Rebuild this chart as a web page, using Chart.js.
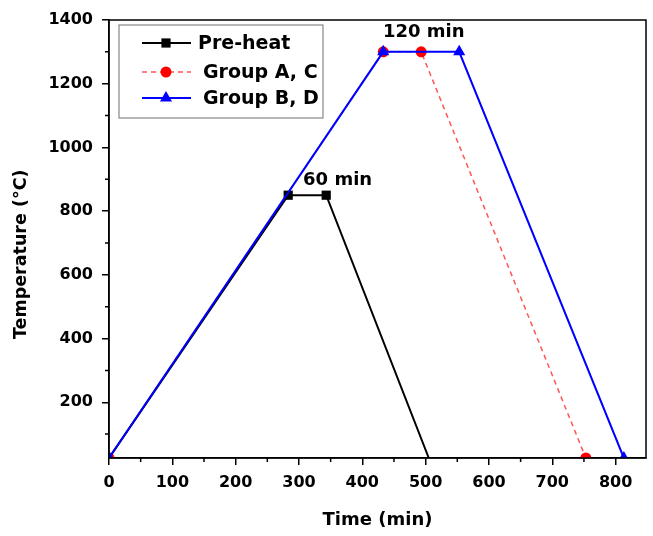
<!DOCTYPE html>
<html><head><meta charset="utf-8">
<script src="https://cdn.jsdelivr.net/npm/chart.js@4.4.0/dist/chart.umd.min.js"></script>
<style>html,body{margin:0;padding:0;background:#fff;} #wrap{width:653px;height:536px;}</style>
</head><body><div id="wrap"><canvas id="c" width="653" height="536"></canvas></div>
<script>
// ---- data ----
const seriesNames = ['Pre-heat', 'Group A, C', 'Group B, D'];
const preheatTime = [0, 283, 343, 505];
const preheatTemp = [25, 850, 850, 25];
const groupACTime = [0, 433, 493, 753];
const groupACTemp = [25, 1300, 1300, 25];
const groupBDTime = [0, 433, 553, 813];
const groupBDTemp = [25, 1300, 1300, 25];
const xTickLabels = [0, 100, 200, 300, 400, 500, 600, 700, 800];
const xMinorTicks = [50, 150, 250, 350, 450, 550, 650, 750];
const yTickLabels = [200, 400, 600, 800, 1000, 1200, 1400];
const yMinorTicks = [100, 300, 500, 700, 900, 1100, 1300];
const annotationTexts = ['60 min', '120 min'];
const annotationX = [361, 497];
const annotationY = [898, 1360];

const toXY = (xs, ys) => xs.map((x, i) => ({x: x, y: ys[i]}));
const FONT = '"DejaVu Sans", sans-serif';

function drawMarker(ctx, style, x, y, r, color) {
  ctx.save();
  ctx.fillStyle = color;
  ctx.beginPath();
  if (style === 'rect') {
    const s = Math.SQRT1_2 * r;
    ctx.rect(x - s, y - s, 2 * s, 2 * s);
  } else if (style === 'triangle') {
    ctx.moveTo(x, y - r);
    ctx.lineTo(x + r * Math.sin(Math.PI * 2 / 3), y - r * Math.cos(Math.PI * 2 / 3));
    ctx.lineTo(x + r * Math.sin(Math.PI * 4 / 3), y - r * Math.cos(Math.PI * 4 / 3));
    ctx.closePath();
  } else {
    ctx.arc(x, y, r, 0, Math.PI * 2);
  }
  ctx.fill();
  ctx.restore();
}

const extras = {
  id: 'extras',
  afterDraw(chart) {
    const ctx = chart.ctx;
    const xs = chart.scales.x, ys = chart.scales.y;
    const a = chart.chartArea;
    ctx.save();
    // minor ticks
    ctx.strokeStyle = '#000';
    ctx.lineWidth = 1.5;
    ctx.beginPath();
    xMinorTicks.forEach(v => {
      const px = xs.getPixelForValue(v);
      ctx.moveTo(px, a.bottom); ctx.lineTo(px, a.bottom + 4);
    });
    yMinorTicks.forEach(v => {
      const py = ys.getPixelForValue(v);
      ctx.moveTo(a.left, py); ctx.lineTo(a.left - 4, py);
    });
    ctx.stroke();
    // frame
    ctx.lineWidth = 1.5;
    ctx.strokeRect(a.left, a.top, a.right - a.left, a.bottom - a.top);
    // annotations
    ctx.fillStyle = '#000';
    ctx.font = 'bold 18px ' + FONT;
    ctx.textAlign = 'center';
    ctx.textBaseline = 'middle';
    annotationTexts.forEach((t, i) => {
      ctx.fillText(t, xs.getPixelForValue(annotationX[i]), ys.getPixelForValue(annotationY[i]));
    });
    // legend
    const bx = a.left + 10, by = a.top + 5, bw = 204, bh = 93;
    ctx.fillStyle = '#fff';
    ctx.fillRect(bx, by, bw, bh);
    ctx.strokeStyle = '#888';
    ctx.lineWidth = 1.2;
    ctx.strokeRect(bx, by, bw, bh);
    const rowY = [by + 18, by + 47, by + 73];
    const textX = [bx + 79, bx + 84, bx + 84];
    chart.data.datasets.forEach((ds, i) => {
      const y = rowY[i];
      ctx.save();
      ctx.strokeStyle = ds.borderColor;
      ctx.lineWidth = ds.borderWidth;
      ctx.setLineDash(ds.borderDash || []);
      ctx.beginPath();
      ctx.moveTo(bx + 23, y); ctx.lineTo(bx + 72, y);
      ctx.stroke();
      ctx.restore();
      drawMarker(ctx, ds.pointStyle, bx + 47, y, ds.legendRadius, ds.pointBackgroundColor);
      ctx.fillStyle = '#000';
      ctx.font = 'bold 19px ' + FONT;
      ctx.textAlign = 'left';
      ctx.textBaseline = 'middle';
      ctx.fillText(ds.label, textX[i], y + 1);
    });
    ctx.restore();
  }
};

new Chart(document.getElementById('c'), {
  type: 'line',
  data: {
    datasets: [
      {
        label: seriesNames[0], data: toXY(preheatTime, preheatTemp), order: 1,
        borderColor: '#000', borderWidth: 2, pointStyle: 'rect',
        pointRadius: [0, 6.5, 6.5, 0], pointBackgroundColor: '#000', pointBorderWidth: 0,
        legendRadius: 6.5, clip: 0
      },
      {
        label: seriesNames[1], data: toXY(groupACTime, groupACTemp), order: 2,
        borderColor: '#ff5555', borderWidth: 1.5, borderDash: [5, 4], pointStyle: 'circle',
        pointRadius: 5.5, pointBackgroundColor: '#ff0000', pointBorderWidth: 0,
        legendRadius: 5.5, clip: 0
      },
      {
        label: seriesNames[2], data: toXY(groupBDTime, groupBDTemp), order: 0,
        borderColor: '#0000ff', borderWidth: 2, pointStyle: 'triangle',
        pointRadius: 7, pointBackgroundColor: '#0000ff', pointBorderWidth: 0,
        legendRadius: 7, clip: 0
      }
    ]
  },
  options: {
    responsive: false, animation: false, devicePixelRatio: 1,
    layout: {padding: {left: 0, top: 20, right: 5, bottom: 0}},
    plugins: {legend: {display: false}, tooltip: {enabled: false}},
    elements: {line: {tension: 0}},
    scales: {
      x: {
        type: 'linear', min: 0, max: 848,
        afterBuildTicks: s => { s.ticks = xTickLabels.map(v => ({value: v})); },
        afterFit: s => { s.height = 78; },
        grid: {display: true, drawOnChartArea: false, drawTicks: true, tickLength: 7, color: '#000', lineWidth: 1.5},
        border: {display: true, color: '#000', width: 1.5},
        ticks: {color: '#000', font: {family: FONT, size: 16, weight: 'bold'}, padding: 8, maxRotation: 0, autoSkip: false,
                callback: v => String(v)},
        title: {display: true, text: 'Time (min)', color: '#000', font: {family: FONT, size: 18, weight: 'bold'}, padding: {top: 0, bottom: 5}}
      },
      y: {
        type: 'linear', min: 25, max: 1400,
        afterBuildTicks: s => { s.ticks = yTickLabels.map(v => ({value: v})); },
        afterFit: s => { s.width = 109; },
        grid: {display: true, drawOnChartArea: false, drawTicks: true, tickLength: 7, color: '#000', lineWidth: 1.5},
        border: {display: true, color: '#000', width: 1.5},
        ticks: {color: '#000', font: {family: FONT, size: 16, weight: 'bold'}, padding: 9, autoSkip: false,
                callback: v => String(v)},
        title: {display: true, text: 'Temperature (°C)     ', color: '#000', font: {family: FONT, size: 17.5, weight: 'bold'}, padding: {top: 11, bottom: 0}}
      }
    }
  },
  plugins: [extras]
});
</script>
</body></html>
